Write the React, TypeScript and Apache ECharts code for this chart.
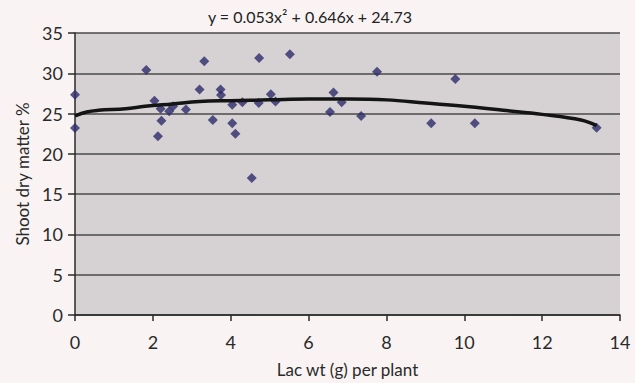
import React, { useEffect, useRef } from "react";
import * as echarts from "echarts";

const lacWt = [0, 0, 1.83, 2.04, 2.13, 2.2, 2.22, 2.42, 2.52, 2.85, 3.2, 3.32, 3.54, 3.74, 3.75, 4.04, 4.04, 4.12, 4.3, 4.54, 4.72, 4.73, 5.03, 5.15, 5.52, 6.55, 6.64, 6.85, 7.35, 7.76, 9.15, 9.77, 10.27, 13.4];
const dryMatter = [27.35, 23.2, 30.4, 26.6, 22.2, 25.6, 24.1, 25.3, 25.9, 25.5, 28.0, 31.5, 24.2, 28.0, 27.3, 26.1, 23.8, 22.5, 26.4, 17.0, 26.3, 31.9, 27.4, 26.5, 32.35, 25.2, 27.6, 26.4, 24.7, 30.2, 23.8, 29.3, 23.8, 23.25];

const trendX = [0, 0.3, 0.6, 1.3, 1.8, 2.5, 3.2, 4, 5, 6, 7, 8, 9, 10, 11, 12, 13, 13.4];
const trendY = [24.7, 25.2, 25.4, 25.6, 25.9, 26.2, 26.5, 26.6, 26.7, 26.8, 26.8, 26.7, 26.3, 25.9, 25.4, 24.9, 24.2, 23.5];

const equation = "y = 0.053x\u00b2 + 0.646x + 24.73";
const xTitle = "Lac wt (g) per plant";
const yTitle = "Shoot dry matter %";

export default function App() {
  const ref = useRef<HTMLDivElement>(null);
  useEffect(() => {
    document.body.style.margin = "0";
    document.body.style.background = "#f9f4f3";
    const chart = echarts.init(ref.current!, null, { renderer: "svg" });
    const font = "Lato, 'Open Sans', sans-serif";
    chart.setOption({
      animation: false,
      backgroundColor: "#f9f4f3",
      textStyle: { fontFamily: font },
      graphic: [
        {
          type: "text",
          x: 310,
          y: 16,
          style: {
            text: equation,
            fill: "#222",
            font: `16px ${font}`,
            textAlign: "center",
            textVerticalAlign: "middle",
          },
        },
      ],
      grid: {
        left: 75,
        right: 15,
        top: 33,
        bottom: 64,
        containLabel: false,
        show: true,
        backgroundColor: "#d6d2d3",
        borderWidth: 0,
      },
      xAxis: {
        type: "value",
        min: 0,
        max: 14,
        interval: 2,
        name: xTitle,
        nameLocation: "middle",
        nameGap: 46,
        nameTextStyle: { fontSize: 17, color: "#2a2a2a", fontFamily: font },
        axisLine: { show: true, onZero: false, lineStyle: { color: "#2a2a2a", width: 1.5 } },
        axisTick: { show: true, length: 6, inside: false, lineStyle: { color: "#2a2a2a", width: 1.5 } },
        axisLabel: { fontSize: 18, color: "#2a2a2a", margin: 18, fontFamily: font },
        splitLine: { show: false },
      },
      yAxis: {
        type: "value",
        min: 0,
        max: 35,
        interval: 5,
        name: yTitle,
        nameLocation: "middle",
        nameGap: 43,
        nameRotate: 90,
        nameTextStyle: { fontSize: 17, color: "#2a2a2a", fontFamily: font },
        axisLine: { show: true, onZero: false, lineStyle: { color: "#2a2a2a", width: 1.5 } },
        axisTick: { show: true, length: 7, inside: false, lineStyle: { color: "#2a2a2a", width: 1.5 } },
        axisLabel: { fontSize: 18, color: "#2a2a2a", margin: 12, fontFamily: font },
        splitLine: { show: true, lineStyle: { color: "#4a4848", width: 1.5 } },
      },
      series: [
        {
          type: "scatter",
          symbol: "diamond",
          symbolSize: 10,
          itemStyle: { color: "#2d2a6b" },
          data: lacWt.map((x, i) => [x, dryMatter[i]]),
          z: 2,
        },
        {
          type: "line",
          smooth: 0.4,
          showSymbol: false,
          symbol: "none",
          lineStyle: { color: "#141414", width: 3.5 },
          data: trendX.map((x, i) => [x, trendY[i]]),
          z: 3,
        },
      ],
    });
    return () => chart.dispose();
  }, []);
  return <div ref={ref} style={{ width: 635, height: 383 }} />;
}
